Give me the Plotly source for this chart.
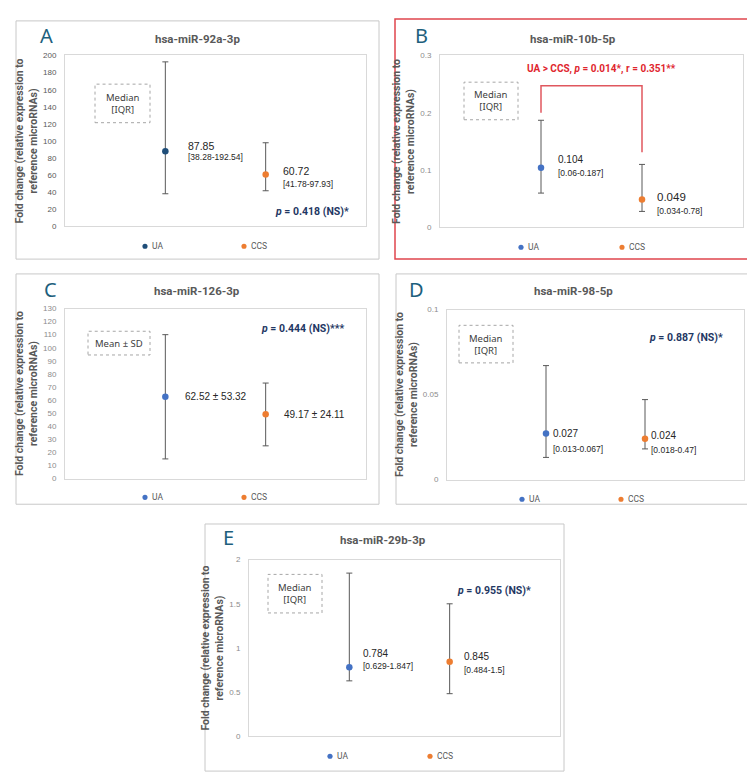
import plotly.graph_objects as go

W, H = 755, 776

groups = ["UA", "CCS"]
letters = ["A", "B", "C", "D", "E"]
titles = ["hsa-miR-92a-3p", "hsa-miR-10b-5p", "hsa-miR-126-3p", "hsa-miR-98-5p", "hsa-miR-29b-3p"]

# central value (median, or mean for C) for [UA, CCS]
center_A = [87.85, 60.72]
center_B = [0.104, 0.049]
center_C = [62.52, 49.17]
center_D = [0.027, 0.024]
center_E = [0.784, 0.845]
# drawn error bar ends (lower, upper) for [UA, CCS]
low_A = [38.28, 41.78]
high_A = [192.54, 97.93]
low_B = [0.06, 0.028]
high_B = [0.187, 0.11]
low_C = [15.0, 25.0]
high_C = [110.0, 73.0]
low_D = [0.013, 0.018]
high_D = [0.067, 0.047]
low_E = [0.629, 0.484]
high_E = [1.847, 1.5]

# data label texts
main_labels_A = ["87.85", "60.72"]
sub_labels_A = ["[38.28-192.54]", "[41.78-97.93]"]
main_labels_B = ["0.104", "0.049"]
sub_labels_B = ["[0.06-0.187]", "[0.034-0.78]"]
main_labels_C = ["62.52 ± 53.32", "49.17 ± 24.11"]
main_labels_D = ["0.027", "0.024"]
sub_labels_D = ["[0.013-0.067]", "[0.018-0.47]"]
main_labels_E = ["0.784", "0.845"]
sub_labels_E = ["[0.629-1.847]", "[0.484-1.5]"]

p_texts = ["<i>p</i> = 0.418 (NS)*", None, "<i>p</i> = 0.444 (NS)***",
           "<i>p</i> = 0.887 (NS)*", "<i>p</i> = 0.955 (NS)*"]
sig_text_B = "UA > CCS, <i>p</i> = 0.014*, r = 0.351**"
box_texts = ["Median<br>[IQR]", "Median<br>[IQR]", "Mean ± SD", "Median<br>[IQR]", "Median<br>[IQR]"]
ytitle = "<b>Fold change (relative expression to<br>reference microRNAs)</b>"

y_ranges = [[0, 200], [0, 0.3], [0, 130], [0, 0.1], [0, 2]]
y_dticks = [20, 0.1, 10, 0.05, 0.5]
x_ranges = [[0, 3], [0, 3], [0, 3], [0, 3], [0, 3.1]]

ORANGE = "#ED7D31"
BLUE = "#4472C4"
DARKBLUE = "#1F4E79"
ua_colors = [DARKBLUE, BLUE, BLUE, BLUE, BLUE]
GRAY = "#595959"
NAVY = "#1F3864"
TEAL = "#1E5F7D"


def px(x):
    return x / W


def py(y):
    return 1 - y / H


# layout geometry in pixels
plot_boxes = [(57, 44, 358, 217), (432, 44, 735, 218), (57, 300, 358, 472),
              (439, 301, 736, 473), (241, 554, 552, 733)]
outer_boxes = [(8, 9, 371, 250), (387, 7, 748, 250), (8, 265, 371, 498),
               (388, 265, 748, 498), (197, 518, 556, 768)]
title_pos = [(189, 27), (565, 27), (189, 282), (565, 282), (375, 534)]
letter_pos = [(38, 24), (413, 24), (42, 281), (408, 281), (220, 532)]
legend_pos = [(137, 236, 237), (513, 614, 238), (137, 236, 491), (514, 613, 493), (322, 422, 753)]
dash_boxes = [(87, 73, 142, 112), (456, 71, 510, 109), (80, 323, 142, 347),
              (451, 317, 505, 355), (260, 569, 314, 608)]
p_pos = [(343, 202), None, (338, 320), (717, 329), (525, 585)]

centers = [center_A, center_B, center_C, center_D, center_E]
lows = [low_A, low_B, low_C, low_D, low_E]
highs = [high_A, high_B, high_C, high_D, high_E]
main_labels = [main_labels_A, main_labels_B, main_labels_C, main_labels_D, main_labels_E]
sub_labels = [sub_labels_A, sub_labels_B, None, sub_labels_D, sub_labels_E]
# label offsets (xshift, yshift main, yshift sub) per panel per group
label_shifts = [
    [(21, 5, -6), (15, 4, -9)],
    [(15, 8, -5), (13, 2, -12)],
    [(18, 0, 0), (16, 0, 0)],
    [(5, 0, -15), (4, 3, -11)],
    [(12, 14, 1), (12, 5, -8)],
]
main_sizes = [[10.5, 10.5], [10, 11.5], [10, 10], [10, 10], [10, 10]]

fig = go.Figure()
shapes = []
annotations = []

for i in range(5):
    sfx = "" if i == 0 else str(i + 1)
    xa, ya = "x" + sfx, "y" + sfx
    x0, y0, x1, y1 = plot_boxes[i]
    fig.update_layout(**{
        "xaxis" + sfx: dict(domain=[px(x0), px(x1)], range=x_ranges[i], anchor=ya,
                            showticklabels=False, ticks="", showgrid=False, zeroline=False,
                            showline=True, mirror=True, linecolor="#d9d9d9", linewidth=1,
                            fixedrange=True),
        "yaxis" + sfx: dict(domain=[py(y1), py(y0)], range=y_ranges[i], anchor=xa,
                            dtick=y_dticks[i], tick0=0, ticks="", showgrid=False, zeroline=False,
                            showline=True, mirror=True, linecolor="#d9d9d9", linewidth=1,
                            tickfont=dict(family="Liberation Sans", size=8,
                                          color="#595959" if i == 0 else "#8c8c8c"),
                            ticklabelstandoff=6, fixedrange=True,
                            title=dict(text=ytitle, standoff=3,
                                       font=dict(family="Roboto", size=10.5, color=GRAY))),
    })
    cols = [ua_colors[i], ORANGE]
    for g in range(2):
        c = centers[i][g]
        fig.add_trace(go.Scatter(
            x=[g + 1], y=[c], mode="markers", name=groups[g], showlegend=False,
            xaxis=xa, yaxis=ya,
            marker=dict(size=6.5, color=cols[g]),
            error_y=dict(type="data", symmetric=False,
                         array=[highs[i][g] - c], arrayminus=[c - lows[i][g]],
                         color=GRAY, thickness=1, width=3),
        ))
        xs, ys_main, ys_sub = label_shifts[i][g]
        annotations.append(dict(x=g + 1, y=c, xref=xa, yref=ya, text=main_labels[i][g],
                                showarrow=False, xanchor="left", yanchor="middle",
                                xshift=xs, yshift=ys_main,
                                font=dict(family="Liberation Sans", size=main_sizes[i][g], color="#262626")))
        if sub_labels[i] is not None:
            annotations.append(dict(x=g + 1, y=c, xref=xa, yref=ya, text=sub_labels[i][g],
                                    showarrow=False, xanchor="left", yanchor="middle",
                                    xshift=xs, yshift=ys_sub,
                                    font=dict(family="Liberation Sans", size=8.5, color="#262626")))

    # outer panel border
    ox0, oy0, ox1, oy1 = outer_boxes[i]
    shapes.append(dict(type="rect", xref="paper", yref="paper",
                       x0=px(ox0), x1=px(ox1), y0=py(oy1), y1=py(oy0),
                       line=dict(color="#E0464E" if i == 1 else "#c8c8c8", width=1.5 if i == 1 else 1),
                       layer="below"))
    # dashed label box
    bx0, by0, bx1, by1 = dash_boxes[i]
    shapes.append(dict(type="rect", xref="paper", yref="paper",
                       x0=px(bx0), x1=px(bx1), y0=py(by1), y1=py(by0),
                       line=dict(color="#a6a6a6", width=1, dash="dot")))
    annotations.append(dict(x=px((bx0 + bx1) / 2), y=py((by0 + by1) / 2), xref="paper", yref="paper",
                            text=box_texts[i], showarrow=False, xanchor="center", yanchor="middle",
                            font=dict(family="Noto Sans", size=9.5, color="#404040")))
    # panel title
    tx, ty = title_pos[i]
    annotations.append(dict(x=px(tx), y=py(ty), xref="paper", yref="paper", text="<b>" + titles[i] + "</b>",
                            showarrow=False, xanchor="center", yanchor="middle",
                            font=dict(family="Roboto", size=11.5, color=GRAY)))
    # panel letter
    lx, ly = letter_pos[i]
    annotations.append(dict(x=px(lx), y=py(ly), xref="paper", yref="paper", text=letters[i],
                            showarrow=False, xanchor="center", yanchor="middle",
                            font=dict(family="Noto Sans", size=20, color=TEAL)))
    # legend
    ux, cx, ly2 = legend_pos[i]
    for mx, col, name in [(ux, cols[0], groups[0]), (cx, ORANGE, groups[1])]:
        shapes.append(dict(type="circle", xref="paper", yref="paper",
                           x0=px(mx - 2.6), x1=px(mx + 2.6), y0=py(ly2 + 2.6), y1=py(ly2 - 2.6),
                           fillcolor=col, line=dict(width=0)))
        annotations.append(dict(x=px(mx + 5), y=py(ly2), xref="paper", yref="paper", text=name,
                                showarrow=False, xanchor="left", yanchor="middle",
                                font=dict(family="Roboto", size=8.5, color=GRAY)))
    # p-value text
    if p_texts[i] is not None:
        ppx, ppy = p_pos[i]
        annotations.append(dict(x=px(ppx), y=py(ppy), xref="paper", yref="paper",
                                text="<b>" + p_texts[i] + "</b>", showarrow=False,
                                xanchor="right", yanchor="middle",
                                font=dict(family="Roboto", size=10.5, color=NAVY)))

# significance bracket for panel B (data coordinates)
bracket_y = [0.2, 0.247, 0.247, 0.131]
bracket_x = [1, 1, 2, 2]
path = "M {} {} L {} {} L {} {} L {} {}".format(
    bracket_x[0], bracket_y[0], bracket_x[1], bracket_y[1],
    bracket_x[2], bracket_y[2], bracket_x[3], bracket_y[3])
shapes.append(dict(type="path", xref="x2", yref="y2", path=path,
                   line=dict(color="#E0575E", width=1.5)))
annotations.append(dict(x=px(593), y=py(58), xref="paper", yref="paper",
                        text="<b>" + sig_text_B + "</b>", showarrow=False,
                        xanchor="center", yanchor="middle",
                        font=dict(family="Roboto", size=10, color="#E0262E")))

fig.update_layout(width=W, height=H, margin=dict(l=0, r=0, t=0, b=0),
                  paper_bgcolor="white", plot_bgcolor="white",
                  shapes=shapes, annotations=annotations, showlegend=False)

fig.write_html("out.html")
